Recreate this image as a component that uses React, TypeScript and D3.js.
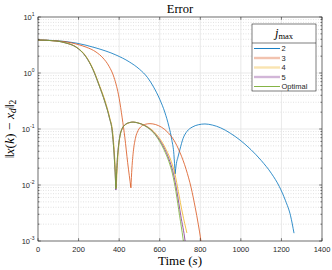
import React, { useEffect, useRef } from 'react';
import * as d3 from 'd3';

const W = 332;
const H = 270;
const M = { top: 17, right: 10, bottom: 29, left: 38 };

// tick values
const xTicks = [0, 200, 400, 600, 800, 1000, 1200, 1400];
const yExps = [-3, -2, -1, 0, 1];

// jmax = 2
const t2 = [0, 89, 187, 286, 384, 450, 500, 540, 570, 600, 625, 645, 660, 670, 676, 682, 690, 700, 715, 735, 760, 790, 823, 860, 900, 950, 1000, 1050, 1100, 1150, 1190, 1220, 1245, 1262];
const e2 = [3.88, 3.78, 3.43, 2.8, 2.1, 1.58, 1.17, 0.83, 0.56, 0.34, 0.2, 0.112, 0.063, 0.035, 0.0158, 0.024, 0.0316, 0.0437, 0.0676, 0.0912, 0.108, 0.119, 0.123, 0.1175, 0.105, 0.0832, 0.0617, 0.0427, 0.0275, 0.0162, 0.00933, 0.00525, 0.00282, 0.00138];
// jmax = 3
const t3 = [0, 89, 138, 187, 237, 286, 320, 350, 375, 400, 415, 428, 442, 458, 463, 470, 480, 493, 510, 530, 552, 580, 610, 640, 670, 700, 730, 755, 775, 790, 803, 808];
const e3 = [3.88, 3.75, 3.6, 3.3, 2.9, 2.37, 1.86, 1.32, 0.83, 0.355, 0.158, 0.0708, 0.0251, 0.00891, 0.02, 0.0398, 0.0676, 0.0933, 0.112, 0.1216, 0.1245, 0.12, 0.107, 0.0871, 0.0631, 0.038, 0.0191, 0.00891, 0.00398, 0.002, 0.001, 0.0007];
// jmax = 4
const t4 = [0, 89, 138, 187, 237, 271, 301, 331, 354, 368, 378, 386, 392, 399, 406, 417, 432, 452, 470, 492, 530, 585, 632, 657, 675, 692, 712, 734];
const e4 = [3.88, 3.73, 3.44, 2.94, 1.98, 1.19, 0.631, 0.316, 0.158, 0.0891, 0.0316, 0.00891, 0.0251, 0.0537, 0.0794, 0.105, 0.12, 0.13, 0.133, 0.129, 0.115, 0.0794, 0.0427, 0.0263, 0.0158, 0.00759, 0.00316, 0.00139];
// jmax = 5
const t5 = [0, 89, 138, 187, 237, 271, 301, 330, 352, 366, 376, 384, 390, 397, 404, 415, 430, 450, 468, 490, 527, 580, 626, 650, 668, 685, 704, 725, 730];
const e5 = [3.88, 3.73, 3.43, 2.91, 1.93, 1.15, 0.603, 0.302, 0.158, 0.0891, 0.0316, 0.00813, 0.0251, 0.0501, 0.0759, 0.102, 0.12, 0.13, 0.133, 0.129, 0.115, 0.0794, 0.0427, 0.0263, 0.0158, 0.00759, 0.00282, 0.001, 0.0007];
// optimal
const tOpt = [0, 89, 138, 187, 237, 271, 301, 330, 352, 366, 376, 384, 390, 397, 404, 415, 430, 450, 468, 490, 527, 577, 621, 645, 663, 680, 698, 715, 720];
const eOpt = [3.88, 3.73, 3.43, 2.91, 1.93, 1.15, 0.603, 0.302, 0.158, 0.0891, 0.0316, 0.00851, 0.0251, 0.0501, 0.0759, 0.102, 0.12, 0.13, 0.133, 0.129, 0.1135, 0.0794, 0.0427, 0.0263, 0.0158, 0.00759, 0.00282, 0.0011, 0.00079];

const names = ['2', '3', '4', '5', 'Optimal'];
const colors = ['#0072BD', '#D95319', '#EDB120', '#7E2F8E', '#77AC30'];

const sans = '"Liberation Sans", Arial, sans-serif';
const serif = '"Liberation Serif", "DejaVu Serif", serif';

export default function App() {
  const svgRef = useRef<SVGSVGElement>(null);

  useEffect(() => {
    document.body.style.margin = '0';
    if (!svgRef.current) return;
    const svg = d3.select(svgRef.current);
    svg.selectAll('*').remove();

    const x0 = M.left, x1 = W - M.right, y0 = M.top, y1 = H - M.bottom;
    const x = d3.scaleLinear().domain([0, 1400]).range([x0, x1]);
    const y = d3.scaleLog().domain([1e-3, 10]).range([y1, y0]);

    const series = [
      { t: t2, e: e2 }, { t: t3, e: e3 }, { t: t4, e: e4 }, { t: t5, e: e5 }, { t: tOpt, e: eOpt },
    ].map((s, i) => ({ ...s, name: names[i], color: colors[i] }));

    svg.append('rect').attr('x', x0).attr('y', y0).attr('width', x1 - x0).attr('height', y1 - y0).attr('fill', '#fff');

    // minor grid (log)
    const grid = svg.append('g');
    yExps.slice(0, -1).forEach(p => {
      for (let k = 2; k <= 9; k++) {
        const yy = y(k * Math.pow(10, p));
        grid.append('line').attr('x1', x0).attr('x2', x1).attr('y1', yy).attr('y2', yy)
          .attr('stroke', '#cfcfcf').attr('stroke-width', 0.6).attr('stroke-dasharray', '1,1.5');
      }
    });
    yExps.forEach(p => {
      const yy = y(Math.pow(10, p));
      grid.append('line').attr('x1', x0).attr('x2', x1).attr('y1', yy).attr('y2', yy)
        .attr('stroke', '#e3e3e3').attr('stroke-width', 0.8);
    });
    xTicks.forEach(v => {
      grid.append('line').attr('x1', x(v)).attr('x2', x(v)).attr('y1', y0).attr('y2', y1)
        .attr('stroke', '#e3e3e3').attr('stroke-width', 0.8);
    });

    // curves
    svg.append('defs').append('clipPath').attr('id', 'plot-clip')
      .append('rect').attr('x', x0).attr('y', y0).attr('width', x1 - x0).attr('height', y1 - y0);
    const line = d3.line<[number, number]>()
      .x(d => x(d[0])).y(d => y(d[1])).curve(d3.curveMonotoneX);
    const curves = svg.append('g').attr('clip-path', 'url(#plot-clip)');
    series.forEach(s => {
      const pts: [number, number][] = s.t.map((t, i) => [t, s.e[i]]);
      // split at local minima so the dips stay sharp
      const segs: [number, number][][] = [];
      let cur: [number, number][] = [];
      pts.forEach((p, i) => {
        cur.push(p);
        if (i > 0 && i < pts.length - 1 && p[1] < pts[i - 1][1] && p[1] < pts[i + 1][1]) {
          segs.push(cur);
          cur = [p];
        }
      });
      segs.push(cur);
      segs.forEach(seg => {
        curves.append('path').attr('d', line(seg)).attr('fill', 'none')
          .attr('stroke', s.color).attr('stroke-width', 0.8);
      });
    });

    // axes box and ticks
    const ax = svg.append('g').attr('stroke', '#262626').attr('stroke-width', 0.6);
    ax.append('rect').attr('x', x0).attr('y', y0).attr('width', x1 - x0).attr('height', y1 - y0).attr('fill', 'none');
    xTicks.forEach(v => {
      ax.append('line').attr('x1', x(v)).attr('x2', x(v)).attr('y1', y1).attr('y2', y1 - 2.8);
      ax.append('line').attr('x1', x(v)).attr('x2', x(v)).attr('y1', y0).attr('y2', y0 + 2.8);
    });
    yExps.forEach((p, j) => {
      const yy = y(Math.pow(10, p));
      ax.append('line').attr('x1', x0).attr('x2', x0 + 2.8).attr('y1', yy).attr('y2', yy);
      ax.append('line').attr('x1', x1).attr('x2', x1 - 2.8).attr('y1', yy).attr('y2', yy);
      if (j < yExps.length - 1) {
        for (let k = 2; k <= 9; k++) {
          const ym = y(k * Math.pow(10, p));
          ax.append('line').attr('x1', x0).attr('x2', x0 + 1.5).attr('y1', ym).attr('y2', ym);
          ax.append('line').attr('x1', x1).attr('x2', x1 - 1.5).attr('y1', ym).attr('y2', ym);
        }
      }
    });

    // tick labels
    xTicks.forEach(v => {
      svg.append('text').attr('x', x(v)).attr('y', y1 + 10.5).attr('text-anchor', 'middle')
        .attr('font-family', sans).attr('font-size', 7.5).attr('fill', '#262626').text(String(v));
    });
    yExps.forEach(p => {
      const tx = svg.append('text').attr('x', x0 - 3.5).attr('y', y(Math.pow(10, p)) + 3)
        .attr('text-anchor', 'end').attr('font-family', sans).attr('fill', '#262626');
      tx.append('tspan').attr('font-size', 7.5).text('10');
      tx.append('tspan').attr('font-size', 5).attr('dy', -4).text(String(p));
    });

    // title and axis labels
    svg.append('text').attr('x', (x0 + x1) / 2).attr('y', 13).attr('text-anchor', 'middle')
      .attr('font-family', serif).attr('font-size', 12.5).attr('fill', '#000').text('Error');

    const xl = svg.append('text').attr('x', (x0 + x1) / 2).attr('y', 265).attr('text-anchor', 'middle')
      .attr('font-family', serif).attr('font-size', 13).attr('fill', '#000');
    xl.append('tspan').text('Time (');
    xl.append('tspan').attr('font-style', 'italic').text('s');
    xl.append('tspan').text(')');

    const yl = svg.append('text').attr('transform', `translate(13.5,${(y0 + y1) / 2}) rotate(-90)`)
      .attr('text-anchor', 'middle').attr('font-family', serif).attr('font-size', 13.5).attr('fill', '#000');
    yl.append('tspan').text('‖');
    yl.append('tspan').attr('font-style', 'italic').text('x');
    yl.append('tspan').text('(');
    yl.append('tspan').attr('font-style', 'italic').text('k');
    yl.append('tspan').text(') − ');
    yl.append('tspan').attr('font-style', 'italic').text('x');
    yl.append('tspan').attr('font-style', 'italic').attr('font-size', 9.5).attr('dy', 2.5).text('d');
    yl.append('tspan').attr('dy', -2.5).text('‖');
    yl.append('tspan').attr('font-size', 9.5).attr('dy', 2.5).text('2');

    // legend
    const lx = 252, ly = 24, lw = 64, lh = 67;
    const lg = svg.append('g');
    lg.append('rect').attr('x', lx).attr('y', ly).attr('width', lw).attr('height', lh)
      .attr('fill', '#fff').attr('stroke', '#262626').attr('stroke-width', 0.6);
    lg.append('line').attr('x1', lx).attr('x2', lx + lw).attr('y1', ly + 19).attr('y2', ly + 19)
      .attr('stroke', '#262626').attr('stroke-width', 0.6);
    const lt = lg.append('text').attr('x', lx + lw / 2).attr('y', ly + 13).attr('text-anchor', 'middle')
      .attr('font-family', serif).attr('fill', '#000');
    lt.append('tspan').attr('font-style', 'italic').attr('font-size', 12.5).text('j');
    lt.append('tspan').attr('font-size', 8.5).attr('dy', 2).text('max');
    series.forEach((s, i) => {
      const yy = ly + 24.5 + i * 9.5;
      const faded = i >= 1 && i <= 3;
      lg.append('line').attr('x1', lx + 2).attr('x2', lx + 28).attr('y1', yy).attr('y2', yy)
        .attr('stroke', s.color).attr('stroke-width', faded ? 2.4 : 0.9).attr('stroke-opacity', faded ? 0.35 : 1);
      lg.append('text').attr('x', lx + 29.5).attr('y', yy + 2.7).attr('font-family', sans)
        .attr('font-size', 7.5).attr('fill', '#262626').text(s.name);
    });
  }, []);

  return <svg ref={svgRef} width={W} height={H} style={{ display: 'block' }} />;
}
